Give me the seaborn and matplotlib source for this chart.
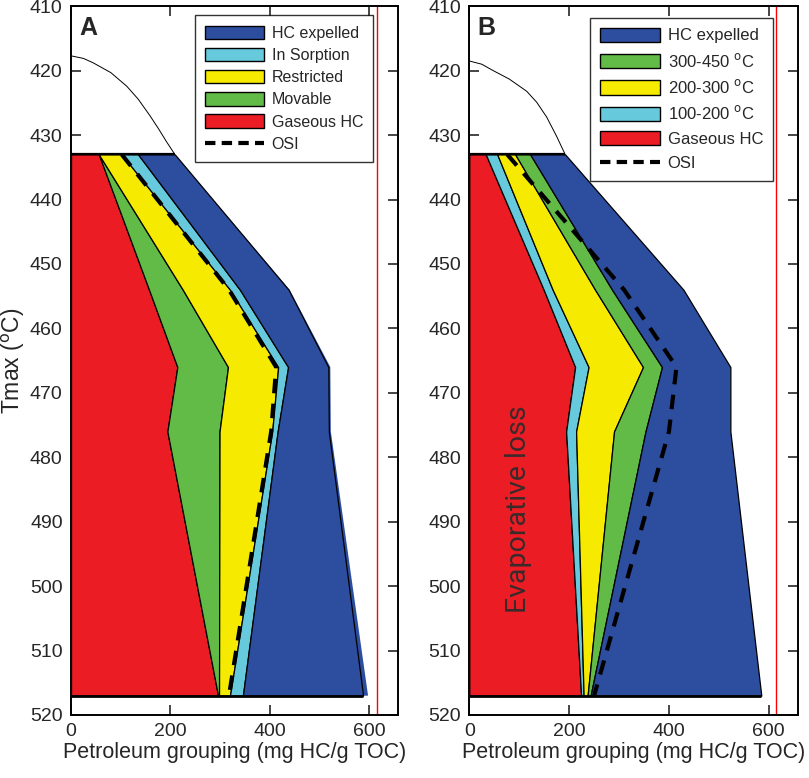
import numpy as np
import seaborn as sns
import matplotlib.pyplot as plt
from matplotlib.patches import Patch
from matplotlib.lines import Line2D

# =============================================================================
# Data
# =============================================================================

tmax_pts = [433, 454, 466, 476, 517]

# Panel A - cumulative right edges of each band (mg HC/g TOC)
a_gaseous = [56, 157, 214, 194, 296]
a_movable = [56, 225, 316, 299, 298]
a_restricted = [102, 320, 417, 405, 320]
a_sorption = [135, 340, 437, 416, 346]
a_expelled = [209, 438, 518, 519, 588]
a_expelled_halo = [209, 440, 522, 523, 598]
a_osi = [102, 318, 413, 403, 318]

# Panel B - cumulative right edges of each band
b_gaseous = [33, 149, 212, 194, 224]
b_100_200 = [56, 167, 239, 214, 229]
b_200_300 = [92, 252, 348, 290, 237]
b_300_450 = [122, 286, 386, 353, 243]
b_expelled = [192, 429, 523, 523, 585]
b_osi = [76, 310, 415, 400, 250]

# thin upper curves
a_curve_x = [0, 25, 45, 80, 112, 135, 159, 176, 192, 209]
a_curve_t = [417.7, 418.1, 418.8, 420.3, 422.4, 424.4, 427.0, 429.0, 431.0, 433.0]
b_curve_x = [0, 25, 48, 80, 115, 135, 155, 175, 192]
b_curve_t = [418.5, 419.0, 420.0, 421.3, 423.2, 424.9, 427.2, 430.2, 433.0]

ref_line = 615

# =============================================================================
# Style
# =============================================================================

sns.set_style("ticks")
plt.rcParams["font.family"] = ["Liberation Sans", "DejaVu Sans"]

c_blue = "#2D4E9F"
c_cyan = "#67C9DC"
c_yellow = "#F6EB00"
c_green = "#62BA47"
c_red = "#EC1C24"


def draw_panel(ax, bounds, colors, halo, osi, curve_x, curve_t):
    left = [0] * len(tmax_pts)
    if halo is not None:
        ax.fill_betweenx(tmax_pts, bounds[-1], halo, facecolor=c_blue,
                         edgecolor="none", zorder=1)
    for right, col in zip(bounds, colors):
        ax.fill_betweenx(tmax_pts, left, right, facecolor=col,
                         edgecolor="black", linewidth=0.9, zorder=2)
        left = right

    ax.hlines(tmax_pts[0], 0, bounds[-1][0], color="black", lw=1.6, zorder=3)
    ax.hlines(tmax_pts[-1], 0, bounds[-1][-1], color="black", lw=2.0, zorder=3)

    sns.lineplot(x=osi, y=tmax_pts, orient="y", sort=False, estimator=None,
                 color="black", linewidth=3, ax=ax, zorder=4)
    ax.lines[-1].set_dashes([3.5, 2.5])

    sns.lineplot(x=curve_x, y=curve_t, orient="y", sort=False, estimator=None,
                 color="black", linewidth=0.7, ax=ax, zorder=3)

    ax.axvline(ref_line, color="red", linewidth=1.0, zorder=1)

    ax.set_xlim(0, 658)
    ax.set_ylim(520, 410)
    ax.set_xticks([0, 200, 400, 600])
    ax.set_yticks(np.arange(410, 521, 10))
    ax.tick_params(direction="in", length=7, width=1.2, top=True, right=True,
                   labelsize=14, pad=6)
    for spine in ax.spines.values():
        spine.set_color("black")
        spine.set_linewidth(1.4)
        spine.set_zorder(5)
    ax.set_xlabel("Petroleum grouping (mg HC/g TOC)", fontsize=15.5, labelpad=1)


fig = plt.figure(figsize=(8.09, 7.78), dpi=100)
ax_a = fig.add_axes([0.0878, 0.081, 0.404, 0.911])
ax_b = fig.add_axes([0.5801, 0.081, 0.406, 0.911])

# Panel A
draw_panel(ax_a,
           [a_gaseous, a_movable, a_restricted, a_sorption, a_expelled],
           [c_red, c_green, c_yellow, c_cyan, c_blue],
           a_expelled_halo, a_osi, a_curve_x, a_curve_t)
ax_a.set_ylabel("Tmax ($^{\\mathrm{o}}$C)", fontsize=16.5, labelpad=2)
ax_a.text(0.026, 0.986, "A", transform=ax_a.transAxes, fontsize=18,
          fontweight="bold", va="top", ha="left")

handles_a = [
    Patch(facecolor=c_blue, edgecolor="black", label="HC expelled"),
    Patch(facecolor=c_cyan, edgecolor="black", label="In Sorption"),
    Patch(facecolor=c_yellow, edgecolor="black", label="Restricted"),
    Patch(facecolor=c_green, edgecolor="black", label="Movable"),
    Patch(facecolor=c_red, edgecolor="black", label="Gaseous HC"),
    Line2D([0], [0], color="black", lw=3, linestyle=(0, (2.5, 1.5)), label="OSI"),
]
leg = ax_a.legend(handles=handles_a, loc="upper left", fontsize=11.5,
                  bbox_to_anchor=(0.379, 0.987), frameon=True, fancybox=False,
                  edgecolor="black", handlelength=3.7, handleheight=0.9,
                  labelspacing=0.44, handletextpad=0.45, borderpad=0.65,
                  borderaxespad=0)
leg.get_frame().set_linewidth(1.0)

# Panel B
draw_panel(ax_b,
           [b_gaseous, b_100_200, b_200_300, b_300_450, b_expelled],
           [c_red, c_cyan, c_yellow, c_green, c_blue],
           None, b_osi, b_curve_x, b_curve_t)
ax_b.set_ylabel("")
ax_b.text(0.026, 0.986, "B", transform=ax_b.transAxes, fontsize=18,
          fontweight="bold", va="top", ha="left")
ax_b.text(98, 488, "Evaporative loss", rotation=90, fontsize=20.5,
          family=["Roboto", "Liberation Sans"], fontweight="normal",
          color="#3b2a2a", ha="center", va="center", zorder=4)

handles_b = [
    Patch(facecolor=c_blue, edgecolor="black", label="HC expelled"),
    Patch(facecolor=c_green, edgecolor="black", label="300-450 $^{\\mathrm{o}}$C"),
    Patch(facecolor=c_yellow, edgecolor="black", label="200-300 $^{\\mathrm{o}}$C"),
    Patch(facecolor=c_cyan, edgecolor="black", label="100-200 $^{\\mathrm{o}}$C"),
    Patch(facecolor=c_red, edgecolor="black", label="Gaseous HC"),
    Line2D([0], [0], color="black", lw=3, linestyle=(0, (2.5, 1.5)), label="OSI"),
]
leg = ax_b.legend(handles=handles_b, loc="upper left", fontsize=12,
                  bbox_to_anchor=(0.3675, 0.984), frameon=True, fancybox=False,
                  edgecolor="black", handlelength=3.6, handleheight=0.95,
                  labelspacing=0.5, handletextpad=0.45, borderpad=0.6,
                  borderaxespad=0)
leg.get_frame().set_linewidth(1.0)

plt.savefig("out.png", dpi=100)
